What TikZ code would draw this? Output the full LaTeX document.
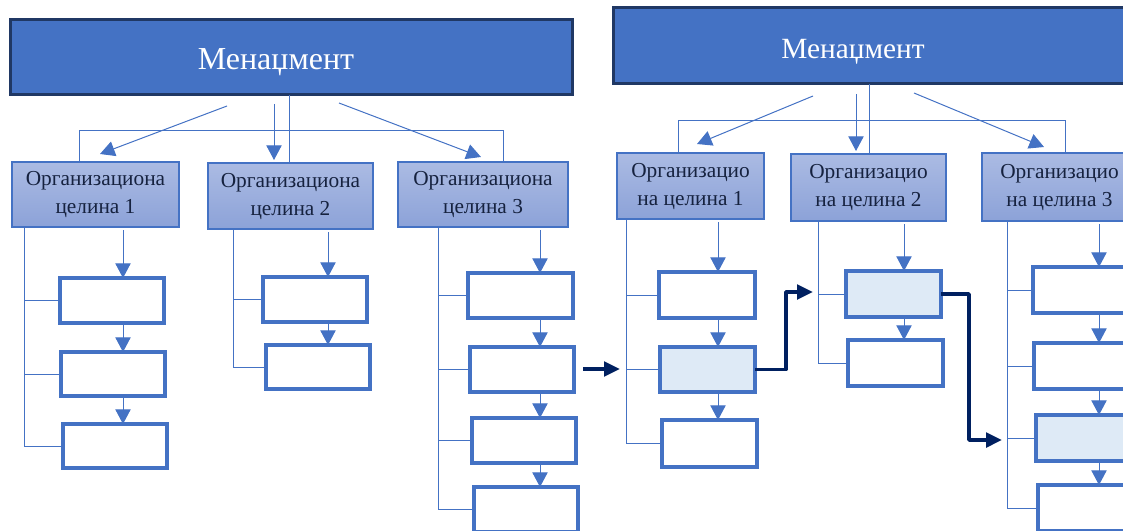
\documentclass[tikz,border=0pt]{standalone}
\usepackage{fontspec}
\setmainfont{Liberation Serif}
\usetikzlibrary{arrows.meta}

\definecolor{mblue}{HTML}{4472C4}
\definecolor{mborder}{HTML}{203864}
\definecolor{orgtop}{HTML}{ABBBE3}
\definecolor{orgbot}{HTML}{8CA2D8}
\definecolor{orgtext}{HTML}{16223F}
\definecolor{hlfill}{HTML}{DEEAF6}
\definecolor{navy}{HTML}{002060}

\tikzset{every picture/.style={line width=0.75pt}}
\tikzset{
  sz/.style 2 args={minimum width=#1*0.75pt, minimum height=#2*0.75pt},
  topbox/.style={draw=mborder, line width=2.25pt, fill=mblue, inner sep=0pt, outer sep=0pt},
  orgbox/.style={draw=mblue, line width=1.1pt, top color=orgtop, bottom color=orgbot, inner sep=0pt, outer sep=0pt, align=center, text=orgtext, font=\fontsize{16}{21}\selectfont},
  unitbox/.style={draw=mblue, line width=2.4pt, fill=white, inner sep=0pt, outer sep=0pt},
  hlbox/.style={unitbox, fill=hlfill},
  conn/.style={draw=mblue, line width=0.75pt},
  arr/.style={conn, -{Triangle[length=11pt,width=11.5pt]}},
  navyarr/.style={draw=navy, line width=2.6pt, line join=round, -{Triangle[length=12pt,width=11pt]}}
}

\begin{document}
\begin{tikzpicture}[x=0.75pt,y=0.75pt,yscale=-1,xscale=1]
\useasboundingbox (0,0) rectangle (1123,531);
\clip (0,0) rectangle (1123,531);

%%%%% left chart

%Shape: Rectangle
\node[topbox, sz={562}{75}] (mL) at (291,57.5) {};
% Text Node
\node[anchor=base, text=white, font=\fontsize{24}{29}\selectfont] (mLt) at (276,70) {Менаџмент};

%Shape: Rectangle
\node[orgbox, sz={167}{65}] (o1) at (95.5,194.5) {Организациона\\целина 1};
\node[orgbox, sz={165}{66}] (o2) at (290.5,196) {Организациона\\целина 2};
\node[orgbox, sz={170}{65}] (o3) at (483,194.5) {Организациона\\целина 3};

%Shape: Rectangle
\node[unitbox, sz={104}{45}] (a1) at (112,300.5) {};
\node[unitbox, sz={104}{44}] (a2) at (113,374) {};
\node[unitbox, sz={104}{44}] (a3) at (115,446) {};
\node[unitbox, sz={104}{45}] (b1) at (315,299.5) {};
\node[unitbox, sz={104}{44}] (b2) at (318,367) {};
\node[unitbox, sz={105}{45}] (c1) at (520.5,295.5) {};
\node[unitbox, sz={104}{45}] (c2) at (522,369.5) {};
\node[unitbox, sz={104}{45}] (c3) at (524,440.5) {};
\node[unitbox, sz={104}{45}] (c4) at (526,509.5) {};

%Straight Lines
\coordinate (s1L) at (227,106); \coordinate (t1L) at (100,154);
\coordinate (s2L) at (274,104);
\coordinate (vL) at (289,0);
\coordinate (s3L) at (339,103); \coordinate (t3L) at (481,157);
\coordinate (blL) at (79,131); \coordinate (brL) at (503,131);
\draw[arr] (s1L) -- (t1L);
\draw[arr, shorten >=2.25pt] (s2L) -- (s2L |- o2.north);
\draw[conn] (mL.south -| vL) -- (o2.north -| vL);
\draw[arr] (s3L) -- (t3L);
\draw[conn] (o1.north -| blL) -- (blL) -- (brL) -- (o3.north -| brL);

%Straight Lines
\coordinate (la) at (24,0);  \coordinate (ka) at (123,0);
\coordinate (lb) at (233,0); \coordinate (kb) at (328,0);
\coordinate (lc) at (438,0); \coordinate (kc) at (540,0);
\draw[conn] (o1.south -| la) |- (a3.west);
\draw[conn] (o2.south -| lb) |- (b2.west);
\draw[conn] (o3.south -| lc) |- (c4.west);
\foreach \l/\b in {la/a1,la/a2,lb/b1,lc/c1,lc/c2,lc/c3}
  \draw[conn] (\l |- \b.west) -- (\b.west);
\draw[arr, shorten <=2.25pt] (o1.south -| ka) -- (a1.north -| ka);
\draw[arr, shorten <=2.25pt] (o2.south -| kb) -- (b1.north -| kb);
\draw[arr, shorten <=2.25pt] (o3.south -| kc) -- (c1.north -| kc);
\foreach \k/\u/\v in {ka/a1/a2,ka/a2/a3,kb/b1/b2,kc/c1/c2,kc/c2/c3,kc/c3/c4}
  \draw[arr] (\u.south -| \k) -- (\v.north -| \k);

%Straight Lines
\coordinate (n1s) at (583,369); \coordinate (n1t) at (620,369);
\draw[navyarr] (n1s) -- (n1t);

%%%%% right chart

%Shape: Rectangle
\node[topbox, sz={562}{76}] (mR) at (894,46) {};
% Text Node
\node[anchor=base, text=white, font=\fontsize{22}{27}\selectfont] (mRt) at (853,59) {Менаџмент};

%Shape: Rectangle
\node[orgbox, sz={147}{66}] (p1) at (690.5,186) {Организацио\\на целина 1};
\node[orgbox, sz={155}{67}] (p2) at (868.5,187.5) {Организацио\\на целина 2};
\node[orgbox, sz={155}{68}] (p3) at (1059.5,187) {Организацио\\на целина 3};

%Shape: Rectangle
\node[unitbox, sz={96}{46}] (d1) at (707,295) {};
\node[hlbox, sz={95}{45}] (d2) at (707.5,369.5) {};
\node[unitbox, sz={95}{47}] (d3) at (709.5,443.5) {};
\node[hlbox, sz={95}{46}] (e1) at (893.5,294) {};
\node[unitbox, sz={95}{46}] (e2) at (895.5,363) {};
\node[unitbox, sz={96}{46}] (f1) at (1081,290) {};
\node[unitbox, sz={96}{46}] (f2) at (1082,366) {};
\node[hlbox, sz={96}{46}] (f3) at (1084,438) {};
\node[unitbox, sz={96}{46}] (f4) at (1086,508) {};

%Straight Lines
\coordinate (s1R) at (813,96); \coordinate (t1R) at (697,144);
\coordinate (s2R) at (856,94);
\coordinate (vR) at (869,0);
\coordinate (s3R) at (914,93); \coordinate (t3R) at (1044,147);
\coordinate (blR) at (678,121); \coordinate (brR) at (1065,121);
\draw[arr] (s1R) -- (t1R);
\draw[arr, shorten >=2.25pt] (s2R) -- (s2R |- p2.north);
\draw[conn] (mR.south -| vR) -- (p2.north -| vR);
\draw[arr] (s3R) -- (t3R);
\draw[conn] (p1.north -| blR) -- (blR) -- (brR) -- (p3.north -| brR);

%Straight Lines
\coordinate (ld) at (626,0);  \coordinate (kd) at (718,0);
\coordinate (le) at (818,0);  \coordinate (ke) at (904,0);
\coordinate (lf) at (1007,0); \coordinate (kf) at (1099,0);
\draw[conn] (p1.south -| ld) |- (d3.west);
\draw[conn] (p2.south -| le) |- (e2.west);
\draw[conn] (p3.south -| lf) |- (f4.west);
\foreach \l/\b in {ld/d1,ld/d2,le/e1,lf/f1,lf/f2,lf/f3}
  \draw[conn] (\l |- \b.west) -- (\b.west);
\draw[arr, shorten <=2.25pt] (p1.south -| kd) -- (d1.north -| kd);
\draw[arr, shorten <=2.25pt] (p2.south -| ke) -- (e1.north -| ke);
\draw[arr, shorten <=2.25pt] (p3.south -| kf) -- (f1.north -| kf);
\foreach \k/\u/\v in {kd/d1/d2,kd/d2/d3,ke/e1/e2,kf/f1/f2,kf/f2/f3,kf/f3/f4}
  \draw[arr] (\u.south -| \k) -- (\v.north -| \k);

%Straight Lines
\coordinate (j1) at (786,0); \coordinate (n2t) at (813,292);
\coordinate (j2) at (969,0); \coordinate (n3t) at (1002,440);
\draw[navyarr] (d2.east) -| (j1 |- n2t) -- (n2t);
\draw[navyarr] (e1.east) -| (j2 |- n3t) -- (n3t);

\end{tikzpicture}
\end{document}
